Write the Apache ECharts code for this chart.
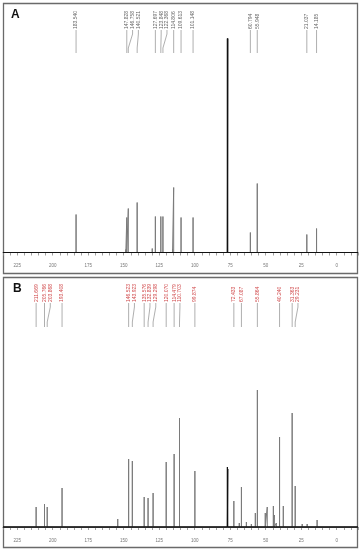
<!DOCTYPE html>
<html><head><meta charset="utf-8">
<script src="https://cdn.jsdelivr.net/npm/echarts@6/dist/echarts.min.js"></script>
<style>html,body{margin:0;padding:0;background:#fff}#c{width:362px;height:550px}</style>
</head><body><div id="c"></div>
<script>
// ---------- data (ppm / relative intensity) ----------
const ppmTickLabels = ['225','200','175','150','125','100','75','50','25','0'];

const peaksA_ppm = [183.540, 147.828, 146.758, 140.521, 127.697, 123.848, 122.368, 114.806, 109.613, 101.148, 60.794, 55.948, 21.037, 14.185];
const peaksA_h   = [38, 35, 44, 50, 36, 36, 36, 65, 35, 35, 20, 69, 18, 24];
const labelsA    = ['183.540','147.828','146.758','140.521','127.697','123.848','122.368','114.806','109.613','101.148','60.794','55.948','21.037','14.185'];
const solventA_ppm = [77.0, 76.7];
const solventA_h   = [214, 214];
const minorA_ppm = [171.0, 148.5, 129.9, 115.6];
const minorA_h   = [2, 3, 4, 3];

const peaksB_ppm = [211.669, 205.766, 203.868, 193.408, 146.523, 143.923, 135.576, 132.839, 129.298, 120.070, 114.479, 110.703, 99.874, 72.433, 67.087, 55.864, 40.240, 31.363, 29.231];
const peaksB_h   = [20, 23, 20, 39, 68, 66, 30, 29, 34, 65, 73, 109, 56, 26, 40, 137, 90, 114, 41];
const labelsB    = ['211.669','205.766','203.868','193.408','146.523','143.923','135.576','132.839','129.298','120.070','114.479','110.703','99.874','72.433','67.087','55.864','40.240','31.363','29.231'];
const solventB_ppm = [77.0, 76.7];
const solventB_h   = [60, 58];
const minorB_ppm = [171.0, 154.2, 68.6, 63.6, 60.1, 57.3, 50.3, 48.9, 44.6, 43.9, 42.5, 37.6, 24.3, 20.8, 13.8];
const minorB_h   = [2, 8, 4, 5, 3, 14, 14, 20, 21, 12, 4, 21, 3, 3, 7];

// ---------- helpers ----------
const X_MIN = -15, X_MAX = 235;
function trace(ppms, hs) {
  const pts = ppms.map((p, i) => [p, hs[i]]).sort((a, b) => b[0] - a[0]);
  const out = [[X_MAX, 0]];
  pts.forEach(([p, h]) => { out.push([p, 0], [p, h], [p, 0]); });
  out.push([X_MIN, 0]);
  return out;
}
function spread(xs, gap) {
  const order = xs.map((x, i) => i).sort((a, b) => xs[a] - xs[b]);
  const pos = xs.slice();
  let prev = -1e9;
  order.forEach(i => { pos[i] = Math.max(xs[i], prev + gap); prev = pos[i]; });
  return pos;
}
function labelSeries(idx, ppms, hs, labels, color, textBottom, lineBottom) {
  return {
    type: 'custom', xAxisIndex: idx, yAxisIndex: idx, clip: false, z: 5,
    data: ppms.map((p, i) => [p, hs[i], i]),
    renderItem: function (params, api) {
      const i = api.value(2);
      const xs = ppms.map(p => api.coord([p, 0])[0]);
      const lxs = spread(xs, 5.8);
      const lx = lxs[i], px = xs[i];
      return {
        type: 'group',
        children: [
          { type: 'text', x: lx, y: textBottom, rotation: Math.PI / 2,
            style: { text: labels[i], fontSize: 5, fontFamily: 'Liberation Sans, Arial, sans-serif', fill: color, align: 'left', verticalAlign: 'middle' } },
          { type: 'polyline',
            shape: { points: [[lx, textBottom + 1], [lx, textBottom + 5], [px, lineBottom - 5], [px, lineBottom]] },
            style: { stroke: '#9a9a9a', lineWidth: 0.8, fill: null } }
        ]
      };
    }
  };
}
function xAxisCfg(idx) {
  return {
    gridIndex: idx, type: 'value', inverse: true, min: X_MIN, max: X_MAX, interval: 5, offset: 3,
    axisLine: { show: true, lineStyle: { color: '#777', width: 1 } },
    axisTick: { show: true, length: 3, lineStyle: { color: '#888', width: 0.8 } },
    axisLabel: { fontSize: 4.5, color: '#777', margin: 8, fontFamily: 'Liberation Sans, Arial, sans-serif',
      formatter: v => (ppmTickLabels.indexOf(String(v)) >= 0 ? String(v) : '') },
    splitLine: { show: false }
  };
}
function yAxisCfg(idx, max) {
  return { gridIndex: idx, type: 'value', min: 0, max: max, show: false };
}
function lineS(idx, data, color, width, z) {
  return { type: 'line', xAxisIndex: idx, yAxisIndex: idx, data: data, showSymbol: false, symbol: 'none',
    clip: false, animation: false, lineStyle: { color: color, width: width }, z: z };
}

const chart = echarts.init(document.getElementById('c'), null, { renderer: 'canvas' });
const gridA = { left: 2, width: 356, top: 30, height: 222.5 };
const gridB = { left: 2, width: 356, top: 304, height: 223 };
chart.setOption({
  animation: false,
  backgroundColor: '#fff',
  grid: [gridA, gridB],
  xAxis: [xAxisCfg(0), xAxisCfg(1)],
  yAxis: [yAxisCfg(0, gridA.height), yAxisCfg(1, gridB.height)],
  series: [
    lineS(0, trace(minorA_ppm.concat(peaksA_ppm), minorA_h.concat(peaksA_h)), '#7a7a7a', 1, 2),
    lineS(0, trace(solventA_ppm, solventA_h), '#111', 1, 3),
    lineS(0, [[X_MAX, 0], [X_MIN, 0]], '#111', 1, 4),
    labelSeries(0, peaksA_ppm, peaksA_h, labelsA, '#666', 29, 53),
    lineS(1, trace(minorB_ppm.concat(peaksB_ppm), minorB_h.concat(peaksB_h)), '#7a7a7a', 1, 2),
    lineS(1, trace(solventB_ppm, solventB_h), '#111', 1, 3),
    lineS(1, [[X_MAX, 0], [X_MIN, 0]], '#111', 1, 4),
    labelSeries(1, peaksB_ppm, peaksB_h, labelsB, '#d0484a', 302, 327)
  ],
  graphic: [
    { type: 'rect', shape: { x: 3.5, y: 3.5, width: 354, height: 270 }, style: { fill: null, stroke: '#6a6a6a', lineWidth: 1.3 }, silent: true },
    { type: 'rect', shape: { x: 3.5, y: 277.5, width: 354, height: 270 }, style: { fill: null, stroke: '#6a6a6a', lineWidth: 1.3 }, silent: true },
    { type: 'text', x: 11, y: 9, style: { text: 'A', fontSize: 12, fontWeight: 'bold', fontFamily: 'Liberation Sans, Arial, sans-serif', fill: '#111' } },
    { type: 'text', x: 13, y: 283, style: { text: 'B', fontSize: 12, fontWeight: 'bold', fontFamily: 'Liberation Sans, Arial, sans-serif', fill: '#111' } }
  ]
});
</script>
</body></html>
